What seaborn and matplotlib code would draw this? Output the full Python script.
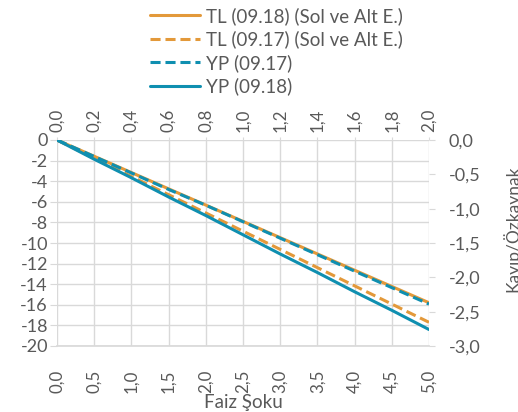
import matplotlib
matplotlib.use("Agg")
import matplotlib.pyplot as plt
from matplotlib.lines import Line2D
from matplotlib.ticker import FuncFormatter, MultipleLocator
import seaborn as sns

# Interest-rate shock (percentage points) for TL (bottom axis) and FX (top axis)
shock_tl = [0.0, 0.5, 1.0, 1.5, 2.0, 2.5, 3.0, 3.5, 4.0, 4.5, 5.0]
shock_yp = [0.0, 0.2, 0.4, 0.6, 0.8, 1.0, 1.2, 1.4, 1.6, 1.8, 2.0]

# Loss / equity, TL series on the left axis
tl_0918 = [0.0, -1.58, -3.16, -4.74, -6.32, -7.90, -9.48, -11.06, -12.64, -14.22, -15.80]
tl_0917 = [0.0, -1.77, -3.54, -5.31, -7.08, -8.85, -10.62, -12.39, -14.16, -15.93, -17.70]

# Loss / equity, FX series on the right axis
yp_0917 = [0.0, -0.24, -0.48, -0.72, -0.95, -1.19, -1.43, -1.67, -1.91, -2.15, -2.39]
yp_0918 = [0.0, -0.28, -0.55, -0.83, -1.10, -1.38, -1.66, -1.93, -2.21, -2.48, -2.76]

labels = ["TL (09.18) (Sol ve Alt E.)", "TL (09.17) (Sol ve Alt E.)",
          "YP (09.17)", "YP (09.18)"]

ORANGE = "#E3993A"
TEAL = "#0F8FB0"
GRID = "#D9D9D9"
TEXT = "#595959"
LW = 2.2
DASH = (3.3, 1.6)

sns.set_theme(style="white")
plt.rcParams["font.family"] = ["Lato", "DejaVu Sans"]
FS = 13.5      # legend and axis titles
TFS = 13       # tick labels

fig = plt.figure(figsize=(5.18, 4.12), dpi=100)
ax = fig.add_axes([57 / 518, 1 - 346 / 412, (429 - 57) / 518, (346 - 140) / 412])
ax2 = fig.add_axes(ax.get_position(), frameon=False, label="secondary")

sns.lineplot(x=shock_tl, y=tl_0918, ax=ax, color=ORANGE, linewidth=LW, legend=False)
sns.lineplot(x=shock_tl, y=tl_0917, ax=ax, color=ORANGE, linewidth=LW, legend=False)
ax.lines[-1].set_dashes(DASH)
sns.lineplot(x=shock_yp, y=yp_0917, ax=ax2, color=TEAL, linewidth=LW, legend=False)
ax2.lines[-1].set_dashes(DASH)
sns.lineplot(x=shock_yp, y=yp_0918, ax=ax2, color=TEAL, linewidth=LW, legend=False)

comma1 = FuncFormatter(lambda v, p: f"{v:.1f}".replace(".", ","))

# primary axes: bottom / left
ax.set_xlim(0, 5)
ax.set_ylim(-20, 0)
ax.xaxis.set_major_locator(MultipleLocator(0.5))
ax.yaxis.set_major_locator(MultipleLocator(2))
ax.xaxis.set_major_formatter(comma1)
ax.yaxis.set_major_formatter(FuncFormatter(lambda v, p: f"{v:.0f}"))
ax.grid(True, color=GRID, linewidth=1)
ax.set_axisbelow(True)
for s in ["top", "right", "left"]:
    ax.spines[s].set_visible(False)
ax.spines["bottom"].set_color(GRID)
ax.tick_params(axis="y", left=True, length=5, width=0.8, color=GRID, pad=1.5,
               labelsize=TFS, labelcolor=TEXT)
ax.tick_params(axis="x", bottom=False, pad=11, labelsize=12.2, labelcolor=TEXT,
               labelrotation=90)
ax.set_xlabel("Faiz Şoku", fontsize=FS, color=TEXT, labelpad=0.5)
ax.set_ylabel("")

# secondary axes: top / right
ax2.set_xlim(0, 2)
ax2.set_ylim(-3, 0)
ax2.xaxis.set_major_locator(MultipleLocator(0.2))
ax2.yaxis.set_major_locator(MultipleLocator(0.5))
ax2.xaxis.set_major_formatter(comma1)
ax2.yaxis.set_major_formatter(comma1)
ax2.xaxis.tick_top()
ax2.yaxis.tick_right()
ax2.xaxis.set_label_position("top")
ax2.yaxis.set_label_position("right")
ax2.spines["right"].set_visible(True)
ax2.spines["right"].set_color(GRID)
ax2.tick_params(axis="x", top=True, length=2, width=0.8, color=GRID, pad=4,
                labelsize=12.2, labelcolor=TEXT, labelrotation=90)
ax2.tick_params(axis="y", right=True, length=4.3, width=0.8, color=GRID, pad=10,
                labelsize=TFS, labelcolor=TEXT)
ax2.set_xlabel("")
ax2.set_ylabel("Kayıp/Özkaynak", fontsize=12.5, color=TEXT)
ax2.yaxis.set_label_coords(1.197, 0.568)

handles = [
    Line2D([], [], color=ORANGE, linewidth=LW),
    Line2D([], [], color=ORANGE, linewidth=LW, dashes=DASH),
    Line2D([], [], color=TEAL, linewidth=LW, dashes=DASH),
    Line2D([], [], color=TEAL, linewidth=LW),
]
fig.legend(handles, labels, loc="upper left", bbox_to_anchor=(150 / 518, 1 - 7 / 412),
           frameon=False, fontsize=FS, labelcolor=TEXT, handlelength=2.67,
           handletextpad=0.32, labelspacing=0.3, borderpad=0, borderaxespad=0)

fig.savefig("out.png", dpi=100)
